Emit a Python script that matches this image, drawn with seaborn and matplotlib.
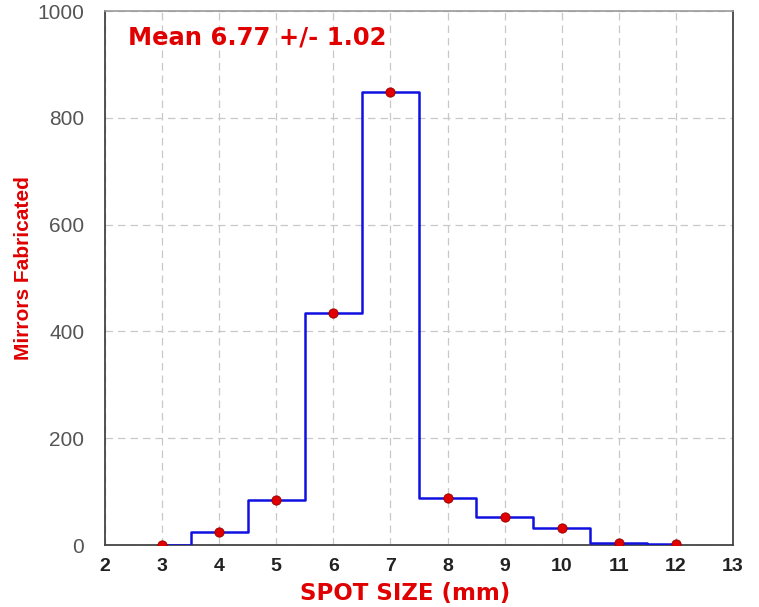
import matplotlib
matplotlib.use("Agg")
import matplotlib.pyplot as plt
import seaborn as sns
import pandas as pd

spot_size = [3, 4, 5, 6, 7, 8, 9, 10, 11, 12]
mirrors = [0, 24, 84, 434, 848, 88, 52, 32, 4, 2]
x_ticks = [2, 3, 4, 5, 6, 7, 8, 9, 10, 11, 12, 13]
y_ticks = [0, 200, 400, 600, 800, 1000]

df = pd.DataFrame({"spot": spot_size, "count": mirrors})

sns.set_style("white")
plt.rcParams["font.family"] = ["Liberation Sans", "DejaVu Sans"]

fig = plt.figure(figsize=(7.59, 6.07), dpi=100)
ax = fig.add_axes([0.1383, 0.102, 0.8274, 0.8797])

sns.lineplot(data=df, x="spot", y="count", ax=ax, color="#1010e0",
             linewidth=1.8, drawstyle="steps-mid", zorder=3)
sns.scatterplot(data=df, x="spot", y="count", ax=ax, color="#e00000",
                s=45, edgecolor="#900000", linewidth=0.6, zorder=4)

ax.set_xlim(2, 13)
ax.set_ylim(0, 1000)
ax.set_xticks(x_ticks)
ax.set_yticks(y_ticks)
ax.grid(True, linestyle=(0, (6, 4)), color="#c8c8c8", linewidth=0.9)
ax.set_axisbelow(True)

for side in ("left", "bottom", "right"):
    ax.spines[side].set_color("#444444")
    ax.spines[side].set_linewidth(1.3)
ax.spines["top"].set_color("#999999")
ax.spines["top"].set_linewidth(1.2)

ax.tick_params(axis="both", direction="out", length=5, width=1,
               color="#333333")
ax.tick_params(axis="x", labelsize=14, labelcolor="#222222", pad=4)
ax.tick_params(axis="y", labelsize=15, labelcolor="#555555", pad=10)
for lbl in ax.get_xticklabels():
    lbl.set_fontweight("bold")

ax.set_xlabel("SPOT SIZE (mm)", color="#e00000", fontsize=16.5,
              fontweight="bold", family=["DejaVu Sans"], va="center")
ax.xaxis.set_label_coords(0.478, -0.09)
ax.set_ylabel("Mirrors Fabricated", color="#e00000", fontsize=15,
              fontweight="bold")
ax.yaxis.set_label_coords(-0.115, 0.519)

ax.text(2.40, 950, "Mean 6.77 +/- 1.02", color="#e00000", fontsize=17.5,
        fontweight="bold", family=["DejaVu Sans"], va="center", ha="left")

fig.savefig("out.png", dpi=100)
